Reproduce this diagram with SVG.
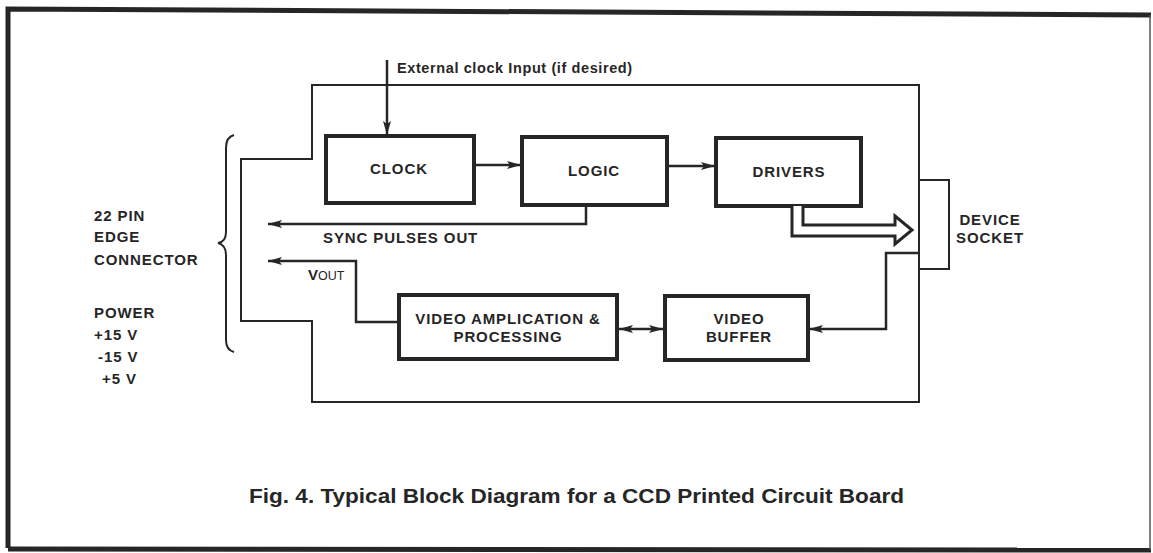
<svg xmlns="http://www.w3.org/2000/svg" width="1153" height="553" viewBox="0 0 1153 553">
  <style>
    .t { font-family: "Liberation Sans", Arial, sans-serif; font-weight: bold; font-size: 15px; fill: #262626; letter-spacing: 0.9px; }
    .c { text-anchor: middle; }
    .box { fill: #ffffff; stroke: #262626; stroke-width: 4; }
    .thin { fill: none; stroke: #262626; stroke-width: 2; }
    .wire { fill: none; stroke: #262626; stroke-width: 2.5; }
  </style>
  <defs>
    <marker id="ah" viewBox="0 0 14 8" refX="14" refY="4" markerWidth="14" markerHeight="8" markerUnits="userSpaceOnUse" orient="auto-start-reverse">
      <path d="M0,0 L14,4 L0,8 L3,4 Z" fill="#262626"/>
    </marker>
  </defs>
  <rect x="0" y="0" width="1153" height="553" fill="#ffffff"/>

  <g id="frame">
    <path d="M8,548 L8,9 L1151,15" fill="none" stroke="#262626" stroke-width="5"/>
    <path d="M8,549 L1151,550" fill="none" stroke="#262626" stroke-width="5"/>
    <path d="M1150,15 L1150,550" fill="none" stroke="#555555" stroke-width="1.5"/>
  </g>

  <g id="board">
    <path class="thin" d="M312,85 H919 V402 H312 V321 H241 V159 H312 Z"/>
  </g>
  <g id="socket">
    <rect class="thin" x="919" y="180" width="30" height="89"/>
    <text class="t c" x="990" y="225">DEVICE</text>
    <text class="t c" x="990" y="243">SOCKET</text>
  </g>

  <g id="edge-connector">
    <path class="thin" d="M234,135 Q226,137 226,148 V232 Q226,242 218,243 Q226,245 226,255 V340 Q226,350 234,352"/>
    <text class="t" x="94" y="221">22 PIN</text>
    <text class="t" x="94" y="242">EDGE</text>
    <text class="t" x="94" y="265">CONNECTOR</text>
    <text class="t" x="94" y="318">POWER</text>
    <text class="t" x="94" y="340">+15 V</text>
    <text class="t" x="98" y="362">-15 V</text>
    <text class="t" x="102" y="384">+5 V</text>
  </g>

  <g id="clock">
    <rect class="box" x="326" y="136" width="148" height="67"/>
    <text class="t c" x="399" y="174">CLOCK</text>
  </g>
  <g id="logic">
    <rect class="box" x="522" y="137" width="145" height="68"/>
    <text class="t c" x="594" y="176">LOGIC</text>
  </g>
  <g id="drivers">
    <rect class="box" x="716" y="138" width="145" height="68"/>
    <text class="t c" x="789" y="177">DRIVERS</text>
  </g>
  <g id="video-amp">
    <rect class="box" x="399" y="295" width="218" height="64"/>
    <text class="t c" x="508" y="324">VIDEO AMPLICATION &amp;</text>
    <text class="t c" x="508" y="342">PROCESSING</text>
  </g>
  <g id="video-buffer">
    <rect class="box" x="665" y="296" width="143" height="64"/>
    <text class="t c" x="739" y="324">VIDEO</text>
    <text class="t c" x="739" y="342">BUFFER</text>
  </g>

  <g id="connectors">
    <path class="wire" d="M387,60 V135" marker-end="url(#ah)"/>
    <path class="wire" d="M474,165 H521" marker-end="url(#ah)"/>
    <path class="wire" d="M667,166 H715" marker-end="url(#ah)"/>
    <path class="wire" d="M586,205 V224 H268" marker-end="url(#ah)"/>
    <path class="wire" d="M399,322 H356 V261 H268" marker-end="url(#ah)"/>
    <path class="wire" d="M619,329 H663" marker-start="url(#ah)" marker-end="url(#ah)"/>
    <path class="wire" d="M919,253 H886 V329 H809" marker-end="url(#ah)"/>
    <path d="M792,206 V236 H895 V244 L912,230 L895,216 V225 H803 V206" fill="#ffffff" stroke="#262626" stroke-width="3" stroke-linejoin="miter"/>
  </g>

  <g id="labels">
    <text class="t" x="397" y="73" style="font-size:14.5px;letter-spacing:0.6px">External clock Input (if desired)</text>
    <text class="t" x="323" y="243">SYNC PULSES OUT</text>
    <text class="t" x="308" y="280" style="letter-spacing:0">V<tspan style="font-weight:normal;font-size:12.5px">OUT</tspan></text>
  </g>

  <g id="caption">
    <text class="t" x="249" y="503" style="font-size:20px;letter-spacing:0" textLength="655" lengthAdjust="spacingAndGlyphs">Fig. 4. Typical Block Diagram for a CCD Printed Circuit Board</text>
  </g>
</svg>
